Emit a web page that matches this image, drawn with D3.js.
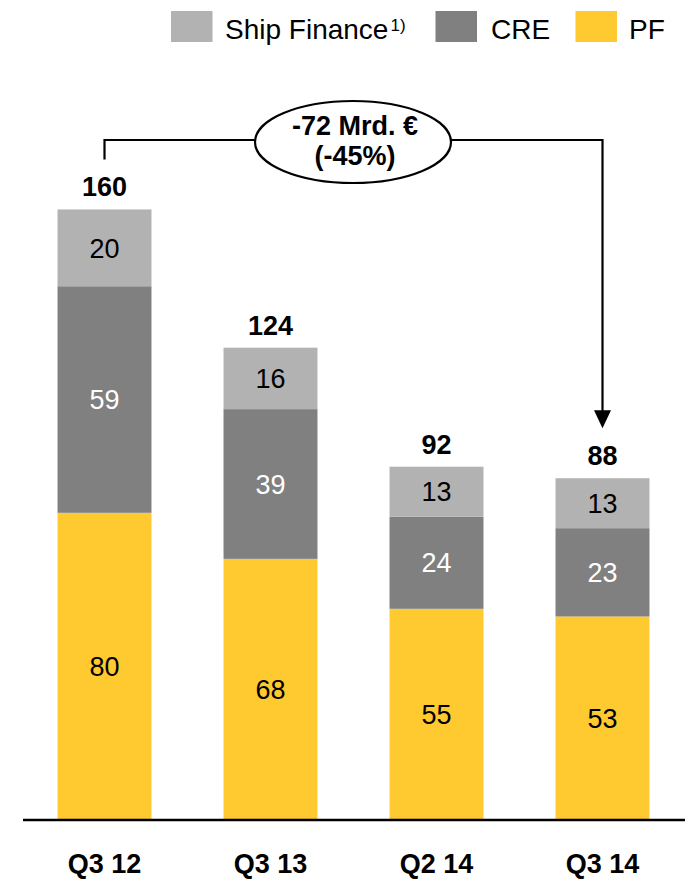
<!DOCTYPE html>
<html>
<head>
<meta charset="utf-8">
<script src="https://cdn.jsdelivr.net/npm/d3@7/dist/d3.min.js"></script>
<style>
  html, body { margin: 0; padding: 0; background: #ffffff; }
  svg { display: block; font-family: "Liberation Sans", Arial, sans-serif; }
</style>
</head>
<body>
<svg id="chart" width="685" height="880"></svg>
<script>
const categories = ["Q3 12", "Q3 13", "Q2 14", "Q3 14"];
const pf = [80, 68, 55, 53];
const cre = [59, 39, 24, 23];
const ship = [20, 16, 13, 13];
const totals = [160, 124, 92, 88];
const seriesNames = ["Ship Finance", "CRE", "PF"];
const annotationLines = ["-72 Mrd. €", "(-45%)"];

const colors = { PF: "#ffca2f", CRE: "#808080", Ship: "#b2b2b2" };
const textColors = { PF: "#000", CRE: "#fff", Ship: "#000" };

const svg = d3.select("#chart");
const baseY = 820;
const pxPerUnit = 3.84;

const x = d3.scaleBand().domain(categories).range([21.5, 685.5])
  .paddingInner(0.434).paddingOuter(0.217);
const y = d3.scaleLinear().domain([0, 160]).range([baseY, baseY - 160 * pxPerUnit]);

const rows = categories.map((c, i) => ({ cat: c, PF: pf[i], CRE: cre[i], Ship: ship[i], total: totals[i] }));
const stack = d3.stack().keys(["PF", "CRE", "Ship"]);
const series = stack(rows);

const font = '"Liberation Sans", Arial, sans-serif';

series.forEach(s => {
  const g = svg.append("g");
  g.selectAll("rect").data(s).enter().append("rect")
    .attr("x", d => x(d.data.cat))
    .attr("width", x.bandwidth())
    .attr("y", d => y(d[1]))
    .attr("height", d => y(d[0]) - y(d[1]))
    .attr("fill", colors[s.key]);
  g.selectAll("text").data(s).enter().append("text")
    .attr("x", d => x(d.data.cat) + x.bandwidth() / 2)
    .attr("y", d => (y(d[0]) + y(d[1])) / 2)
    .attr("dy", "0.36em")
    .attr("text-anchor", "middle")
    .attr("font-size", 27)
    .attr("fill", textColors[s.key])
    .text(d => d.data[s.key]);
});

const topOf = i => y(series[series.length - 1][i][1]);

// totals
svg.append("g").selectAll("text").data(rows).enter().append("text")
  .attr("x", d => x(d.cat) + x.bandwidth() / 2)
  .attr("y", (d, i) => topOf(i) - 13)
  .attr("text-anchor", "middle")
  .attr("font-size", 27)
  .attr("font-weight", "bold")
  .text(d => d.total);

// baseline
svg.append("line").attr("x1", 23).attr("x2", 685).attr("y1", baseY).attr("y2", baseY)
  .attr("stroke", "#000").attr("stroke-width", 2.5);

// x axis labels
svg.append("g").selectAll("text").data(categories).enter().append("text")
  .attr("x", d => x(d) + x.bandwidth() / 2)
  .attr("y", 873)
  .attr("text-anchor", "middle")
  .attr("font-size", 27)
  .attr("font-weight", "bold")
  .text(d => d);

// annotation bracket
const xl = x(categories[0]) + x.bandwidth() / 2;
const xr = x(categories[3]) + x.bandwidth() / 2;
const yb = 140;
const yl = topOf(0) - 50;
const yr = topOf(3) - 50;
svg.append("path")
  .attr("d", `M${xl},${yl} L${xl},${yb} L${xr},${yb} L${xr},${yr - 17}`)
  .attr("fill", "none").attr("stroke", "#000").attr("stroke-width", 2.2);
svg.append("path")
  .attr("d", `M${xr - 8.5},${yr - 18} L${xr + 8.5},${yr - 18} L${xr},${yr} Z`)
  .attr("fill", "#000");
svg.append("ellipse").attr("cx", 353).attr("cy", 142).attr("rx", 98).attr("ry", 41)
  .attr("fill", "#fff").attr("stroke", "#000").attr("stroke-width", 2.2);
svg.append("text").attr("x", 355).attr("y", 135).attr("text-anchor", "middle")
  .attr("font-size", 27).attr("font-weight", "bold").text(annotationLines[0]);
svg.append("text").attr("x", 355).attr("y", 165).attr("text-anchor", "middle")
  .attr("font-size", 27).attr("font-weight", "bold").text(annotationLines[1]);

// legend
const legend = [
  { key: "Ship", name: seriesNames[0], sx: 171, tx: 225, sup: "1)" },
  { key: "CRE", name: seriesNames[1], sx: 435.5, tx: 491 },
  { key: "PF", name: seriesNames[2], sx: 575.5, tx: 629 }
];
legend.forEach(l => {
  svg.append("rect").attr("x", l.sx).attr("y", 11).attr("width", 41.5).attr("height", 31)
    .attr("fill", colors[l.key]);
  const t = svg.append("text").attr("x", l.tx).attr("y", 39).attr("font-size", 28).text(l.name);
  if (l.sup) {
    t.append("tspan").attr("font-size", 17).attr("dy", -8).attr("dx", 2).text(l.sup);
  }
});
</script>
</body>
</html>
